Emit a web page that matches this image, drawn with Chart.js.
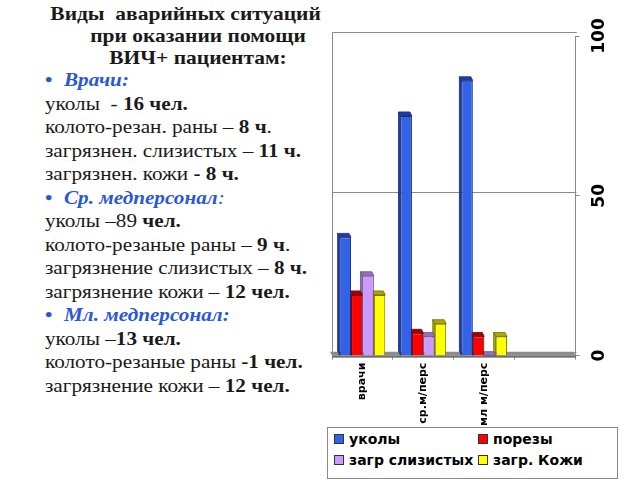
<!DOCTYPE html>
<html>
<head>
<meta charset="utf-8">
<script src="https://cdn.jsdelivr.net/npm/chart.js@4/dist/chart.umd.min.js"></script>
<style>
  body { margin: 0; width: 640px; height: 480px; background: #fff; position: relative; overflow: hidden; }
  #title {
    position: absolute; left: 48px; top: 3px; width: 300px;
    font: bold 19px "Liberation Serif", serif; line-height: 22px;
    text-align: center; color: #1a1a1a;
    transform: scaleX(1.13); transform-origin: 150px 0;
  }
  #title .l1 { position: relative; left: -11px; }
  #notes {
    position: absolute; left: 45px; top: 68px;
    font: 19px "Liberation Serif", serif; line-height: 23.5px; color: #1a1a1a;
    transform: scaleX(1.115); transform-origin: 0 0;
  }
  #notes .h { color: #2a58d6; font-weight: bold; font-style: italic; }
  #notes .h .dot { display: inline-block; width: 17px; font-style: normal; }
  #chartBox { position: absolute; left: 300px; top: 0; }
  #legend {
    position: absolute; left: 327px; top: 427px; width: 289px; height: 50px;
    border: 1px solid #8a8a8a; background: #fff;
    font: bold 14px "DejaVu Sans", sans-serif; color: #000;
  }
  #legend .item { position: absolute; white-space: nowrap; }
  #legend .sw { display: inline-block; width: 8px; height: 8px; border: 1px solid #333; margin-right: 5px; vertical-align: 0px; }
</style>
</head>
<body>
<div id="title"><span class="l1">Виды&nbsp; аварийных ситуаций</span><br>при оказании помощи<br>ВИЧ+ пациентам:</div>
<div id="notes">
  <div class="h"><span class="dot">•</span>Врачи:</div>
  <div>уколы&nbsp; - <b>16 чел.</b></div>
  <div>колото-резан. раны – <b>8 ч</b>.</div>
  <div>загрязнен. слизистых – <b>11 ч.</b></div>
  <div>загрязнен. кожи <b>- 8 ч.</b></div>
  <div class="h"><span class="dot">•</span>Ср. медперсонал<span style="font-weight:normal">:</span></div>
  <div>уколы –89 <b>чел.</b></div>
  <div>колото-резаные раны – <b>9 ч</b>.</div>
  <div>загрязнение слизистых – <b>8 ч.</b></div>
  <div>загрязнение кожи – <b>12 чел.</b></div>
  <div class="h"><span class="dot">•</span>Мл. медперсонал:</div>
  <div>уколы –<b>13 чел.</b></div>
  <div>колото-резаные раны <b>-1 чел.</b></div>
  <div>загрязнение кожи – <b>12 чел.</b></div>
</div>
<div id="chartBox"><canvas id="chart" width="340" height="437"></canvas></div>
<div id="legend"></div>
<script>
// categories (the 4th slot is empty in the original)
const categories = ["врачи", "ср.м/перс", "мл м/перс", ""];

// series values
const ukoly = [37, 75, 86, null];
const porezy = [19, 7, 6, null];
const zagrSliz = [25, 6, 0, null];
const zagrKozhi = [19, 10, 6, null];

const seriesNames = ["уколы", "порезы", "загр слизистых", "загр. Кожи"];
const seriesValues = [ukoly, porezy, zagrSliz, zagrKozhi];
const yTicks = [0, 50, 100];

const frontColors = ["#3262e8", "#ff0000", "#cc99ff", "#ffff00"];
const faceColors = ["#1d3ca8", "#a80000", "#9270b8", "#a8a800"];
const edgeColors = ["#1a2c7a", "#700000", "#6a5288", "#6e6e00"];

// 3D depth of the bars (goes up and a little to the left)
const DX = -2, DY = -4;

function poly(ctx, pts, fill, stroke) {
    ctx.beginPath();
    ctx.moveTo(pts[0][0], pts[0][1]);
    for (let i = 1; i < pts.length; i++) ctx.lineTo(pts[i][0], pts[i][1]);
    ctx.closePath();
    ctx.fillStyle = fill;
    ctx.fill();
    if (stroke) {
        ctx.strokeStyle = stroke;
        ctx.lineWidth = 0.8;
        ctx.stroke();
    }
}

const bars3d = {
    id: "bars3d",
    beforeDatasetsDraw(chart) {
        const ctx = chart.ctx;
        const a = chart.chartArea;
        const ys = chart.scales.y;
        const base = ys.getPixelForValue(0);
        ctx.save();
        // back wall: box and gridlines pushed back by the depth
        ctx.strokeStyle = "#8a8a8a";
        ctx.lineWidth = 1;
        const L = Math.round(a.left) + 0.5, R = Math.round(a.right) + 0.5;
        const T = Math.round(a.top + DY) + 0.5, B = Math.round(base + DY) + 0.5;
        ctx.beginPath();
        ctx.moveTo(L, B); ctx.lineTo(L, T); ctx.lineTo(R, T);
        yTicks.forEach(v => {
            const gy = Math.round(ys.getPixelForValue(v) + DY) + 0.5;
            ctx.moveTo(L, gy); ctx.lineTo(R, gy);
        });
        ctx.stroke();
        // floor
        poly(ctx, [[a.left, base], [a.right, base], [a.right + DX, base + DY], [a.left + DX, base + DY]], "#8c8c8c");
        ctx.fillStyle = "#6e6e6e";
        ctx.fillRect(a.left, base, a.width, 2);
        // side and top faces, drawn back to front
        for (let i = 0; i < categories.length; i++) {
            for (let d = seriesValues.length - 1; d >= 0; d--) {
                if (seriesValues[d][i] == null) continue;
                const bar = chart.getDatasetMeta(d).data[i];
                if (!bar) continue;
                const p = bar.getProps(["x", "y", "width", "base"], true);
                const l = p.x - p.width / 2, r = p.x + p.width / 2;
                poly(ctx, [[l, p.y], [l + DX, p.y + DY], [l + DX, p.base + DY], [l, p.base]], faceColors[d], edgeColors[d]);
                poly(ctx, [[l, p.y], [r, p.y], [r + DX, p.y + DY], [l + DX, p.y + DY]], faceColors[d], edgeColors[d]);
            }
        }
        ctx.restore();
    }
};

new Chart(document.getElementById("chart"), {
    type: "bar",
    data: {
        labels: categories,
        datasets: seriesNames.map((name, k) => ({
            label: name,
            data: seriesValues[k],
            backgroundColor: frontColors[k],
            borderColor: edgeColors[k],
            borderWidth: 1,
            categoryPercentage: 0.75,
            barPercentage: 1.0
        }))
    },
    options: {
        responsive: false,
        animation: false,
        layout: { padding: { left: 32, top: 36, right: 36, bottom: 8 } },
        plugins: { legend: { display: false }, tooltip: { enabled: false } },
        scales: {
            x: {
                grid: { offset: true, drawOnChartArea: false, drawTicks: true, tickLength: 4, color: "#8a8a8a" },
                border: { display: false },
                ticks: {
                    autoSkip: false, minRotation: 90, maxRotation: 90, padding: 3,
                    color: "#000", font: { family: "DejaVu Sans", size: 11, weight: "bold" }
                }
            },
            y: {
                position: "right",
                min: 0, max: 100,
                afterBuildTicks: (scale) => { scale.ticks = yTicks.map(v => ({ value: v })); },
                grid: { color: "#8a8a8a", tickLength: 4, drawOnChartArea: false },
                border: { display: true, color: "#8a8a8a" },
                ticks: {
                    minRotation: 90, maxRotation: 90, crossAlign: "center", padding: 2,
                    color: "#000", font: { family: "DejaVu Sans", size: 17, weight: "bold" }
                }
            }
        }
    },
    plugins: [bars3d]
});

// legend box, two columns
const legend = document.getElementById("legend");
const pos = [[6, 3], [150, 3], [6, 24], [150, 24]];
seriesNames.forEach((name, k) => {
    const it = document.createElement("div");
    it.className = "item";
    it.style.left = pos[k][0] + "px";
    it.style.top = pos[k][1] + "px";
    it.innerHTML = '<span class="sw" style="background:' + frontColors[k] + '"></span>' + name;
    legend.appendChild(it);
});
</script>
</body>
</html>
